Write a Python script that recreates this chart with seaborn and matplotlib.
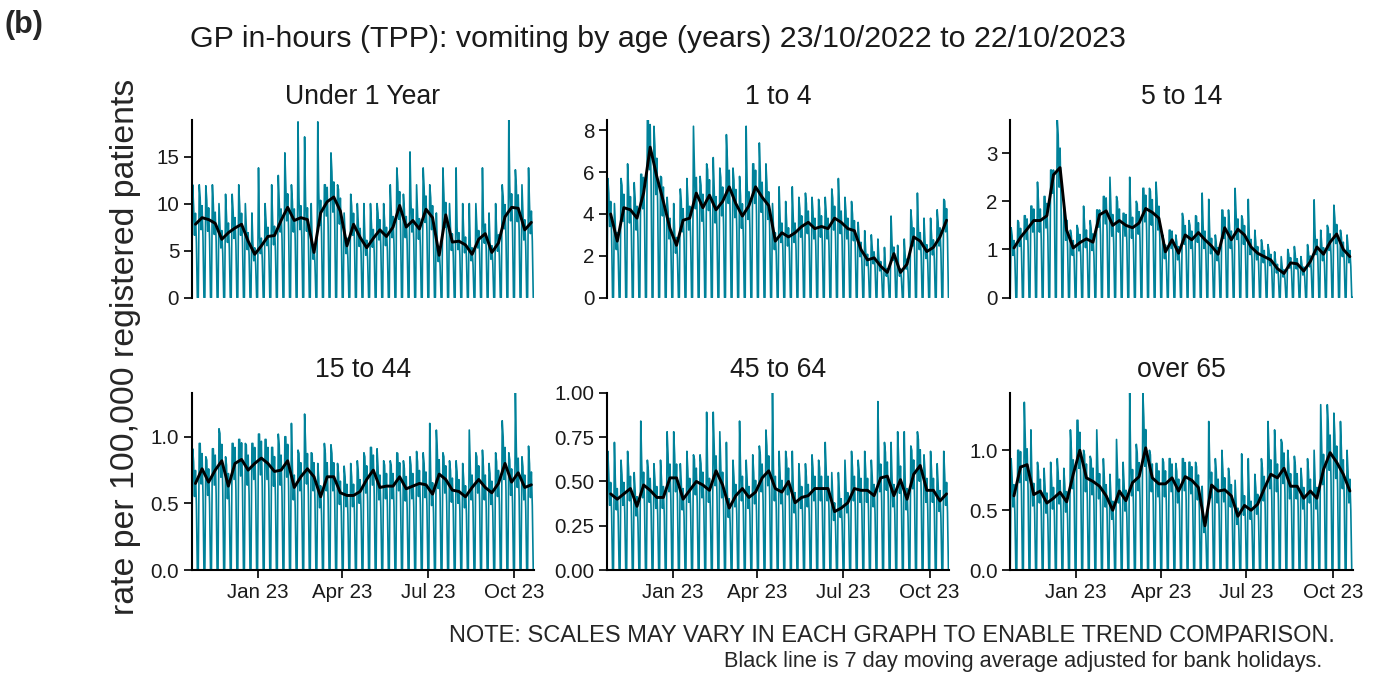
import pandas as pd
import seaborn as sns
import matplotlib.pyplot as plt
import matplotlib.dates as mdates

panels = ['Under 1 Year', '1 to 4', '5 to 14', '15 to 44', '45 to 64', 'over 65']

# weekly level of the black 7-day average line (weeks Mon 24/10/2022 .. Sun 22/10/2023)
under1_ma = [7.8, 8.5, 8.3, 7.9, 6.2, 6.9, 7.4, 7.8, 6.0, 4.6, 5.5, 6.5, 6.6, 8.2, 9.6, 8.2, 8.5, 8.3, 4.8, 9.0,
             10.2, 10.7, 9.2, 5.5, 7.8, 6.4, 5.3, 6.3, 7.2, 6.5, 7.5, 9.8, 7.5, 8.2, 7.3, 9.4, 8.5, 4.5, 8.8, 5.9,
             6.0, 5.6, 4.6, 6.2, 6.8, 4.8, 5.8, 8.6, 9.6, 9.5, 7.2, 8.0]
one4_ma = [4.0, 2.7, 4.3, 4.2, 3.8, 5.0, 7.2, 5.8, 4.6, 3.3, 2.5, 3.7, 3.8, 5.0, 4.3, 4.9, 4.2, 4.6, 5.3, 4.5,
           3.9, 4.4, 5.3, 4.8, 4.4, 2.7, 3.1, 2.9, 3.1, 3.4, 3.6, 3.3, 3.4, 3.3, 3.8, 3.6, 3.3, 3.2, 2.3, 1.8,
           1.9, 1.5, 1.2, 2.1, 1.2, 1.6, 2.9, 2.7, 2.2, 2.4, 2.9, 3.7]
five14_ma = [1.03, 1.25, 1.42, 1.6, 1.6, 1.7, 2.55, 2.7, 1.4, 1.03, 1.14, 1.22, 1.15, 1.72, 1.8, 1.5, 1.6, 1.5,
             1.45, 1.55, 1.85, 1.77, 1.65, 0.95, 1.2, 0.92, 1.3, 1.2, 1.35, 1.2, 1.07, 0.9, 1.45, 1.2, 1.42, 1.3,
             1.05, 0.92, 0.85, 0.78, 0.6, 0.5, 0.72, 0.7, 0.55, 0.75, 1.05, 0.9, 1.15, 1.32, 1.0, 0.85]
fifteen44_ma = [0.65, 0.76, 0.66, 0.75, 0.82, 0.63, 0.80, 0.83, 0.75, 0.80, 0.84, 0.80, 0.74, 0.75, 0.82, 0.62,
                0.70, 0.76, 0.70, 0.55, 0.70, 0.70, 0.58, 0.56, 0.56, 0.59, 0.68, 0.75, 0.62, 0.63, 0.63, 0.70,
                0.61, 0.63, 0.65, 0.64, 0.57, 0.72, 0.68, 0.60, 0.59, 0.55, 0.62, 0.68, 0.62, 0.58, 0.65, 0.80,
                0.66, 0.73, 0.62, 0.64]
fortyfive64_ma = [0.43, 0.40, 0.43, 0.46, 0.36, 0.48, 0.45, 0.41, 0.41, 0.52, 0.52, 0.40, 0.45, 0.50, 0.48, 0.45,
                  0.56, 0.48, 0.35, 0.42, 0.46, 0.41, 0.44, 0.52, 0.56, 0.46, 0.44, 0.50, 0.38, 0.41, 0.42, 0.46,
                  0.46, 0.46, 0.33, 0.35, 0.38, 0.46, 0.45, 0.45, 0.42, 0.52, 0.53, 0.42, 0.51, 0.40, 0.54, 0.59,
                  0.45, 0.45, 0.39, 0.43]
over65_ma = [0.62, 0.86, 0.88, 0.63, 0.66, 0.56, 0.60, 0.65, 0.57, 0.80, 1.00, 0.77, 0.74, 0.70, 0.62, 0.50,
             0.66, 0.58, 0.73, 0.78, 1.02, 0.77, 0.72, 0.72, 0.77, 0.66, 0.78, 0.75, 0.69, 0.37, 0.71, 0.66,
             0.67, 0.62, 0.45, 0.54, 0.50, 0.55, 0.68, 0.80, 0.77, 0.85, 0.70, 0.70, 0.60, 0.66, 0.60, 0.84,
             0.98, 0.90, 0.80, 0.66]

# tallest daily spike of each week
under1_peak = [12, 12, 11.9, 12, 10, 11, 11, 12, 10, 9, 13.8, 10, 12, 13, 15.4, 12, 18.7, 17.1, 10, 18.7,
               12, 15.4, 12, 9, 11, 10, 10, 10, 10, 10, 12, 13.8, 11, 15.5, 12, 13.8, 12, 9, 13.8, 10,
               13.8, 10, 10, 10, 13.8, 9, 10, 12, 18.9, 13.6, 12, 13.8]
one4_peak = [5.7, 4.5, 5.7, 6.4, 5.5, 5.9, 8.5, 8.2, 5.8, 4.8, 4.5, 5.2, 5.7, 8.2, 5.8, 6.4, 6.7, 6.2, 7.8, 6.2,
             5.8, 8.2, 6.4, 7.4, 6.4, 4.5, 5.3, 4.6, 5.3, 4.8, 5.0, 4.8, 4.7, 4.8, 5.2, 5.7, 4.8, 4.6, 3.6, 3.2,
             3.0, 2.8, 2.4, 3.9, 2.5, 2.8, 4.2, 5.0, 3.8, 3.8, 4.2, 4.7]
five14_peak = [1.45, 1.6, 1.7, 1.9, 2.4, 2.1, 2.65, 3.69, 2.0, 1.4, 1.5, 1.9, 1.6, 1.82, 2.1, 2.5, 2.1, 1.75,
               2.5, 2.0, 2.27, 2.27, 2.4, 1.3, 1.4, 1.3, 1.75, 1.6, 1.7, 2.17, 2.04, 1.3, 1.82, 1.82, 2.27, 1.7,
               2.04, 1.4, 1.2, 1.1, 0.95, 0.85, 1.0, 1.06, 0.85, 1.1, 2.03, 1.4, 1.5, 1.92, 1.4, 1.3]
fifteen44_peak = [0.91, 0.95, 0.85, 0.91, 1.06, 0.85, 0.95, 0.98, 0.95, 0.95, 1.02, 0.98, 0.92, 1.02, 1.0, 1.10,
                  0.90, 1.17, 0.88, 0.80, 0.95, 0.94, 0.80, 0.78, 0.80, 0.82, 0.88, 0.92, 0.91, 0.82, 0.82, 0.88,
                  0.82, 0.85, 0.89, 0.88, 1.10, 1.05, 0.88, 0.82, 0.82, 0.80, 1.05, 0.88, 0.90, 0.80, 0.88, 1.12,
                  0.88, 1.33, 0.85, 0.93]
fortyfive64_peak = [0.67, 0.72, 0.62, 0.67, 0.55, 0.84, 0.62, 0.60, 0.62, 0.78, 0.78, 0.60, 0.67, 0.65, 0.65, 0.89,
                    0.89, 0.78, 0.72, 0.62, 0.84, 0.62, 0.65, 0.70, 0.79, 1.0, 0.67, 0.67, 0.67, 0.60, 0.60, 0.65,
                    0.62, 0.72, 0.55, 0.55, 0.62, 0.67, 0.62, 0.67, 0.62, 0.95, 0.72, 0.72, 0.78, 0.78, 0.70, 0.78,
                    0.65, 0.67, 0.60, 0.67]
over65_peak = [0.93, 1.0, 1.4, 1.17, 0.90, 0.85, 0.90, 0.93, 0.85, 1.17, 1.25, 1.0, 0.95, 1.17, 0.93, 0.80,
               1.09, 0.90, 1.48, 1.05, 1.48, 1.0, 0.89, 0.93, 0.93, 0.89, 0.93, 0.90, 0.90, 0.70, 1.24, 0.93,
               1.0, 0.85, 0.75, 0.97, 0.93, 0.80, 0.93, 1.24, 1.17, 1.09, 1.0, 0.95, 0.85, 0.93, 1.0, 1.38,
               1.38, 1.31, 1.24, 1.0]

# typical Tue..Fri rate relative to the weekly level (weekends are ~0)
weekday_factor = [1.25, 0.85, 1.15, 0.75]

y_ticks = [[0, 5, 10, 15], [0, 2, 4, 6, 8], [0, 1, 2, 3],
           [0, 0.5, 1.0], [0, 0.25, 0.5, 0.75, 1.0], [0, 0.5, 1.0]]
y_fmt = ['{:.0f}', '{:.0f}', '{:.0f}', '{:.1f}', '{:.2f}', '{:.1f}']

ma_list = [under1_ma, one4_ma, five14_ma, fifteen44_ma, fortyfive64_ma, over65_ma]
peak_list = [under1_peak, one4_peak, five14_peak, fifteen44_peak, fortyfive64_peak, over65_peak]

start = pd.Timestamp('2022-10-23')
dates = pd.date_range(start, periods=365, freq='D')


def daily_series(ma, peak):
    vals = [0.0]
    for lvl, pk in zip(ma, peak):
        vals += [pk] + [min(lvl * f, pk) for f in weekday_factor] + [0.0, 0.0]
    return pd.DataFrame({'date': dates, 'rate': vals})


sns.set_theme(style='ticks')
plt.rcParams['font.family'] = ['Liberation Sans', 'DejaVu Sans']

W, H = 1381, 673
fig = plt.figure(figsize=(W / 100, H / 100), dpi=100)

col_left = [191.7, 606.9, 1010.2]
row_top = [120.0, 392.7]
pw, ph = 342.5, 177.5
teal = '#00829A'

for k, name in enumerate(panels):
    r, c = divmod(k, 3)
    ax = fig.add_axes([col_left[c] / W, 1 - (row_top[r] + ph) / H, pw / W, ph / H])
    daily = daily_series(ma_list[k], peak_list[k])
    weekly = pd.DataFrame({'date': start + pd.to_timedelta([4 + 7 * i for i in range(52)], unit='D'),
                           'ma': ma_list[k]})
    sns.lineplot(data=daily, x='date', y='rate', ax=ax, color=teal, lw=1.2)
    sns.lineplot(data=weekly, x='date', y='ma', ax=ax, color='black', lw=2.1)
    ax.set_xlim(dates[0], dates[-1])
    ax.set_ylim(0, daily['rate'].max())
    ax.set_yticks(y_ticks[k])
    ax.set_yticklabels([y_fmt[k].format(v) for v in y_ticks[k]])
    ax.set_xlabel('')
    ax.set_ylabel('')
    sns.despine(ax=ax)
    for s in ['left', 'bottom']:
        ax.spines[s].set_linewidth(1.5)
        ax.spines[s].set_color('black')
    ax.tick_params(axis='both', length=6, width=1.4, color='#222222', labelsize=14.8,
                   labelcolor='#1a1a1a', pad=3)
    if r == 0:
        ax.spines['bottom'].set_visible(False)
        ax.tick_params(axis='x', bottom=False, labelbottom=False)
    else:
        ax.xaxis.set_major_locator(mdates.MonthLocator(bymonth=[1, 4, 7, 10]))
        ax.xaxis.set_major_formatter(mdates.DateFormatter('%b %y'))
    fig.text((col_left[c] + pw / 2) / W, 1 - (row_top[r] - 15.7) / H, name,
             ha='center', va='baseline', fontsize=19.2, color='#1a1a1a')

fig.text(5 / W, 1 - 33 / H, '(b)', ha='left', va='baseline', fontsize=22, fontweight='bold')
fig.text(190 / W, 1 - 46.7 / H, 'GP in-hours (TPP): vomiting by age (years) 23/10/2022 to 22/10/2023',
         ha='left', va='baseline', fontsize=21.9, color='#1a1a1a')
fig.text(126 / W, 1 - 347 / H, 'rate per 100,000 registered patients', rotation=90,
         ha='center', va='center', fontsize=24.4)
fig.text(1335 / W, 1 - 642 / H, 'NOTE: SCALES MAY VARY IN EACH GRAPH TO ENABLE TREND COMPARISON.',
         ha='right', va='baseline', fontsize=17.0)
fig.text(1322 / W, 1 - 667 / H, 'Black line is 7 day moving average adjusted for bank holidays.',
         ha='right', va='baseline', fontsize=15.7)

fig.savefig('out.png', dpi=100)
